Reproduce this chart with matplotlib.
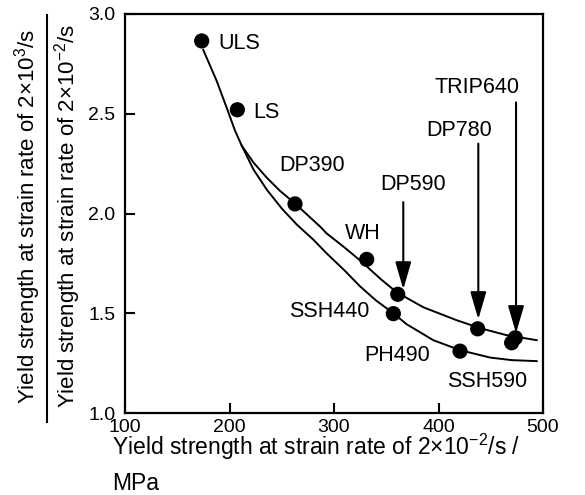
import matplotlib
matplotlib.use("Agg")
import matplotlib.pyplot as plt
from matplotlib.lines import Line2D

plt.rcParams['font.family'] = ['Liberation Sans', 'DejaVu Sans']
plt.rcParams['mathtext.fontset'] = 'custom'
plt.rcParams['mathtext.rm'] = 'Liberation Sans'
plt.rcParams['mathtext.it'] = 'Liberation Sans'
plt.rcParams['mathtext.default'] = 'regular'

# steel grades: yield strength at 2x10^-2/s (MPa) and strength ratio
grades = ['ULS', 'LS', 'DP390', 'WH', 'DP590', 'SSH440', 'DP780', 'PH490', 'TRIP640', 'TRIP640b']
ys_static = [173.4, 207.5, 262.7, 331.3, 361.0, 356.8, 437.5, 420.6, 470.0, 473.5]
ratio = [2.865, 2.52, 2.048, 1.77, 1.595, 1.498, 1.422, 1.31, 1.352, 1.377]

# hand-read trend curves
upper_x = [174.9, 187.7, 197.3, 205.3, 211.7, 223.0, 235.6, 248.0, 262.7, 286.6, 293.0, 310.0,
           324.9, 331.3, 345.0, 360.0, 385.5, 417.4, 440.0, 465.2, 494.0]
upper_y = [2.82, 2.665, 2.53, 2.415, 2.34, 2.255, 2.18, 2.115, 2.05, 1.935, 1.90, 1.83,
           1.765, 1.735, 1.67, 1.605, 1.53, 1.465, 1.425, 1.39, 1.365]
lower_x = [211.7, 223.0, 235.6, 250.0, 264.3, 280.0, 293.0, 310.0, 324.9, 340.0, 356.8,
           369.5, 395.0, 420.6, 449.3, 470.0, 494.0]
lower_y = [2.34, 2.22, 2.12, 2.025, 1.945, 1.87, 1.80, 1.715, 1.635, 1.565, 1.50,
           1.445, 1.365, 1.315, 1.278, 1.265, 1.26]

# text labels (x, y, text, alignment)
labels = [(189, 2.85, 'ULS', 'left'), (222.5, 2.505, 'LS', 'left'), (247.7, 2.24, 'DP390', 'left'),
          (327.8, 1.90, 'WH', 'center'), (375.2, 2.145, 'DP590', 'center'),
          (420.0, 2.415, 'DP780', 'center'), (437.1, 2.63, 'TRIP640', 'center'),
          (295.3, 1.507, 'SSH440', 'center'), (360.0, 1.29, 'PH490', 'center'),
          (446.5, 1.157, 'SSH590', 'center')]

# arrows: x, y start, y tip
arrows = [(366.3, 2.057, 1.62), (438.1, 2.35, 1.47), (474.2, 2.557, 1.40)]

fig = plt.figure(figsize=(5.85, 4.95), dpi=100)
ax = fig.add_axes([125 / 585, 1 - 413 / 495, 418 / 585, 399 / 495])

ax.plot(upper_x, upper_y, color='black', lw=1.4)
ax.plot(lower_x, lower_y, color='black', lw=1.4)
ax.scatter(ys_static, ratio, s=120, color='black', zorder=3, edgecolors='none')

for x, y, t, ha in labels:
    ax.text(x, y, t, fontsize=15.5, ha=ha, va='center')

for x, y0, y1 in arrows:
    ax.annotate('', xy=(x, y1), xytext=(x, y0),
                arrowprops=dict(arrowstyle='-|>,head_length=1.2,head_width=0.35',
                                color='black', lw=1.5, mutation_scale=14,
                                shrinkA=0, shrinkB=0))

ax.set_xlim(100, 500)
ax.set_ylim(1.0, 3.0)
ax.set_xticks([100, 200, 300, 400, 500])
ax.set_yticks([1.0, 1.5, 2.0, 2.5, 3.0])
ax.set_yticklabels(['1.0', '1.5', '2.0', '2.5', '3.0'])
ax.tick_params(direction='in', length=7, width=1.5, labelsize=14, top=False, right=False)
ax.tick_params(axis='y', pad=7)
ax.tick_params(axis='x', pad=4)
for sp in ax.spines.values():
    sp.set_linewidth(1.6)

# x label, two left-aligned lines
fig.text(112 / 585, 1 - 455 / 495, 'Yield strength at strain rate of 2×10$^{-2}$/s /',
         fontsize=16.5, ha='left', va='baseline')
fig.text(112 / 585, 1 - 490 / 495, 'MPa', fontsize=16.5, ha='left', va='baseline')

# y label as a fraction
fig.text(27.5 / 585, 1 - 217 / 495, 'Yield strength at strain rate of 2×10$^{3}$/s',
         fontsize=16, rotation=90, ha='center', va='center')
fig.text(68 / 585, 1 - 216 / 495, 'Yield strength at strain rate of 2×10$^{-2}$/s',
         fontsize=16, rotation=90, ha='center', va='center')
fig.add_artist(Line2D([46.7 / 585, 46.7 / 585], [1 - 15 / 495, 1 - 422 / 495],
                      color='black', lw=1.5, transform=fig.transFigure))

fig.savefig('out.png', dpi=100)
